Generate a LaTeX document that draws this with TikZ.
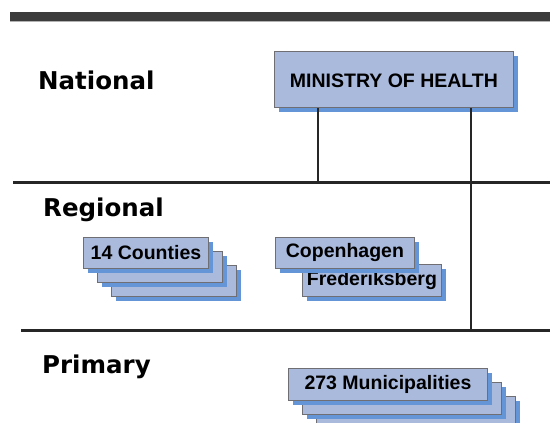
\documentclass[tikz,border=0pt]{standalone}
\usepackage{fontspec}
\setmainfont{Liberation Sans}
\newfontfamily\levelfont{DejaVu Sans}
\usetikzlibrary{shadows}
\definecolor{boxfill}{RGB}{170,186,221}
\definecolor{boxline}{RGB}{110,110,115}
\definecolor{shadowblue}{RGB}{100,150,215}
\definecolor{bandgray}{RGB}{60,60,60}
\tikzset{
  orgbox/.style={rectangle, draw=boxline, fill=boxfill, line width=0.9pt,
    inner sep=0pt, anchor=north west,
    font=\bfseries\fontsize{19.5}{21}\selectfont,
    general shadow={fill=shadowblue, shadow xshift=5pt, shadow yshift=-5pt}},
  levellabel/.style={anchor=base west, inner sep=0pt,
    font=\levelfont\bfseries\fontsize{24.5}{27}\selectfont},
  rule/.style={line width=2.4pt, draw=black!85},
  link/.style={line width=2.4pt, draw=black!85}
}
\begin{document}
\begin{tikzpicture}[x=1pt,y=-1pt]
\useasboundingbox (0,0) rectangle (550,423);
\clip (0,0) rectangle (550,423);
% top band
\fill[bandgray] (10,12) rectangle (550,21);
\draw[gray!60, line width=0.8pt] (10,21) -- (550,21);
% level labels
\node[levellabel] (lnat) at (38,89.5) {National};
\node[levellabel] (lreg) at (43,216) {Regional};
\node[levellabel] (lpri) at (42,373) {Primary};
% level rules
\coordinate (r1a) at (13,182.5);
\coordinate (r1b) at (550,182.5);
\coordinate (r2a) at (21,330.5);
\coordinate (r2b) at (550,330.5);
\draw[rule] (r1a) -- (r1b);
\draw[rule] (r2a) -- (r2b);
% ministry
\node[orgbox, minimum width=239pt, minimum height=56pt, text depth=0pt] (ministry) at (274,51) {\raisebox{-3pt}{MINISTRY OF HEALTH}};
\coordinate (v1) at (318,182.5);
\coordinate (v2) at (471,330.5);
\draw[link] (ministry.south -| v1) -- (v1);
\draw[link] (ministry.south -| v2) -- (v2);
% counties stack
\node[orgbox, minimum width=125pt, minimum height=31pt] (c3) at (111,265) {};
\node[orgbox, minimum width=125pt, minimum height=31pt] (c2) at (97,251) {};
\node[orgbox, minimum width=125pt, minimum height=31pt] (c1) at (83,237) {14 Counties};
% Copenhagen / Frederiksberg
\node[orgbox, minimum width=139pt, minimum height=32pt] (fred) at (302,264) {Frederiksberg};
\node[orgbox, minimum width=139pt, minimum height=31pt] (cph) at (275,237) {Copenhagen};
% municipalities stack
\node[orgbox, minimum width=199pt, minimum height=32pt] (m3) at (316,396) {};
\node[orgbox, minimum width=199pt, minimum height=32pt] (m2) at (302,382) {};
\node[orgbox, minimum width=199pt, minimum height=32pt] (m1) at (288,368) {273 Municipalities};
\end{tikzpicture}
\end{document}
